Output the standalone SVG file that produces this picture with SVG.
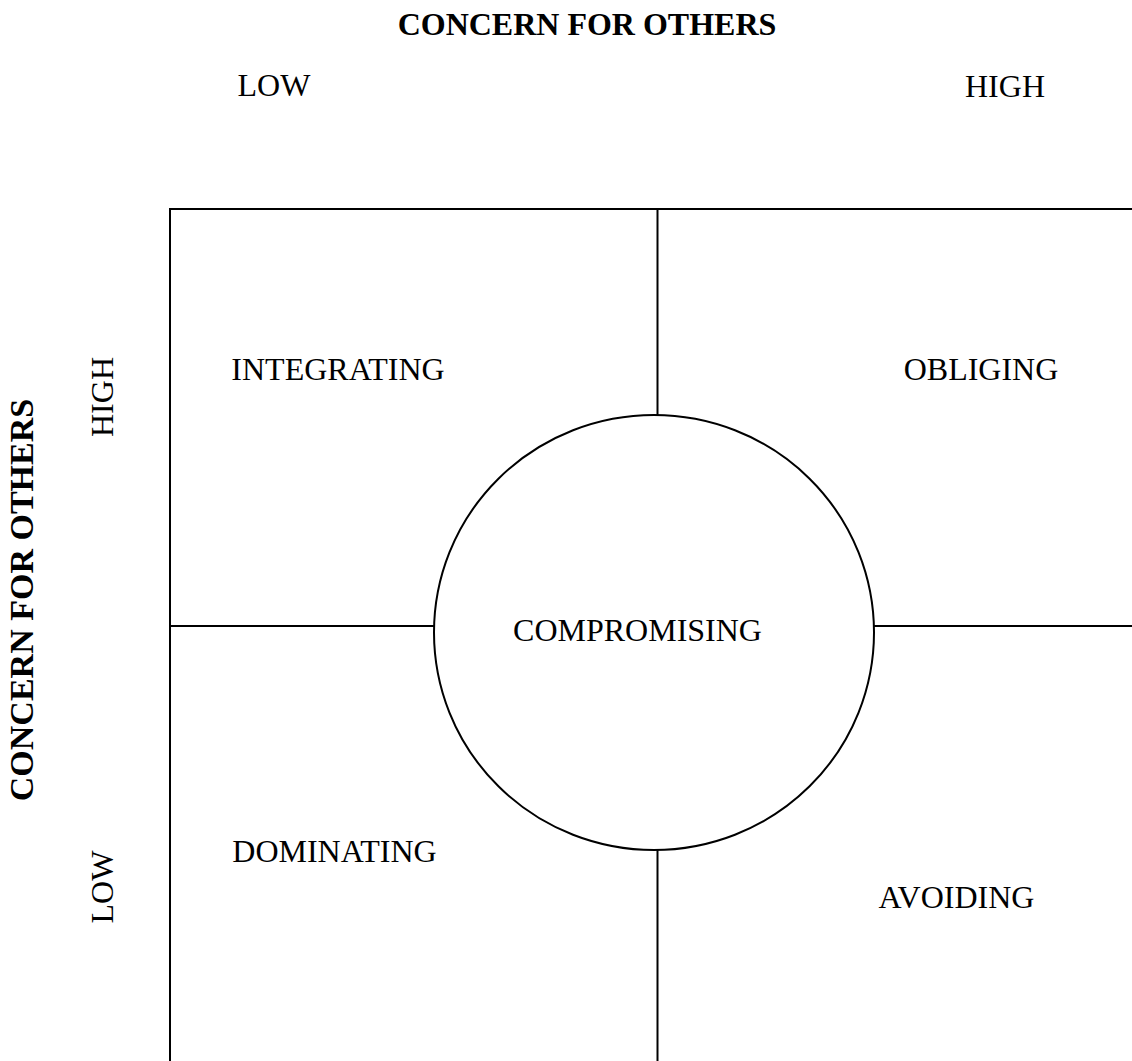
<svg xmlns="http://www.w3.org/2000/svg" width="1132" height="1061" viewBox="0 0 1132 1061">
  <style>
    .ln { fill: none; stroke: #000; stroke-width: 2; }
    .t { font-family: "Liberation Serif", "Times New Roman", serif; font-size: 32px; fill: #000; text-anchor: middle; }
    .b { font-weight: bold; }
  </style>
  <rect width="1132" height="1061" fill="#fff"/>

  <!-- axis titles and scale labels -->
  <g id="axis-top">
    <text class="t b" x="587" y="35">CONCERN FOR OTHERS</text>
    <text class="t" x="274" y="96">LOW</text>
    <text class="t" x="1005" y="97">HIGH</text>
  </g>
  <g id="axis-left">
    <text class="t b" style="font-size:34px" transform="translate(33,600) rotate(-90)">CONCERN FOR OTHERS</text>
    <text class="t" transform="translate(113,397) rotate(-90)">HIGH</text>
    <text class="t" transform="translate(113,887) rotate(-90)">LOW</text>
  </g>

  <!-- grid frame and dividers -->
  <g id="connectors">
    <rect class="ln" x="170" y="209" width="1000" height="900"/>
    <line class="ln" x1="657.5" y1="209" x2="657.5" y2="415"/>
    <line class="ln" x1="657.5" y1="850" x2="657.5" y2="1070"/>
    <line class="ln" x1="170" y1="626" x2="434" y2="626"/>
    <line class="ln" x1="874" y1="626" x2="1140" y2="626"/>
  </g>

  <g id="integrating">
    <text class="t" x="338" y="380">INTEGRATING</text>
  </g>
  <g id="obliging">
    <text class="t" x="981" y="380">OBLIGING</text>
  </g>
  <g id="dominating">
    <text class="t" x="334.5" y="862">DOMINATING</text>
  </g>
  <g id="avoiding">
    <text class="t" x="956.5" y="908">AVOIDING</text>
  </g>
  <g id="compromising">
    <ellipse class="ln" cx="654" cy="632.5" rx="220" ry="217.5" fill="#fff"/>
    <text class="t" x="637.5" y="641">COMPROMISING</text>
  </g>
</svg>
